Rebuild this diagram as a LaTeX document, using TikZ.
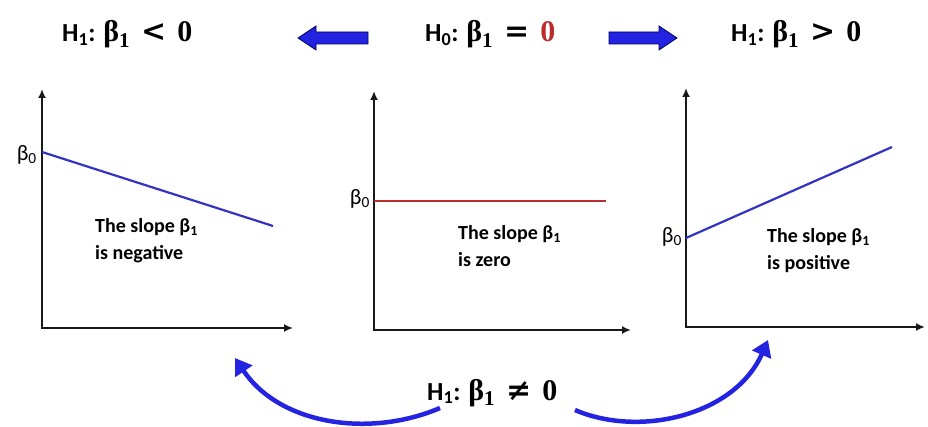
\documentclass[tikz,border=0pt]{standalone}
\usepackage{fontspec}
\setmainfont{Carlito}
\newfontfamily\serifb{Liberation Serif}
\newfontfamily\relfont{DejaVu Serif}
\usetikzlibrary{arrows.meta}
\definecolor{myblue}{RGB}{35,35,225}
\definecolor{lineblue}{RGB}{50,50,195}
\definecolor{myred}{RGB}{185,45,45}
\definecolor{axisgray}{RGB}{25,25,25}
\newcommand{\hypo}[3]{\textbf{H\textsubscript{#1}: {\serifb\fontsize{30}{30}\selectfont β\textsubscript{1}\hspace{11pt}{\relfont #2}\hspace{11pt}#3}}}

\begin{document}
\begin{tikzpicture}[x=1pt,y=-1pt,
  hyp/.style={font=\fontsize{26}{30}\selectfont, anchor=base west, inner sep=0pt},
  axis/.style={line width=2.4pt, axisgray, {Latex[length=9pt,width=8pt]}-{Latex[length=9pt,width=8pt]}},
  slopetxt/.style={font=\bfseries\fontsize{20}{27}\selectfont, align=left, anchor=north west, inner sep=0pt},
  bzero/.style={font=\fontsize{22}{22}\selectfont, anchor=east, inner sep=1pt},
  regline/.style={line width=2.2pt},
  bigarrow/.style={draw=blue!35!black, fill=myblue, line width=0.8pt},
  curvy/.style={line width=4.5pt, myblue, -{Triangle[length=16pt,width=20pt]}}]
\useasboundingbox (0,0) rectangle (928,427);

% headers
\node[hyp] (hneg) at (62,42) {\hypo{1}{<}{0}};
\node[hyp] (hnull) at (425,42) {\hypo{0}{=}{\textcolor{myred}{0}}};
\node[hyp] (hpos) at (731,42) {\hypo{1}{>}{0}};
\node[hyp] (hneq) at (427,400) {\hypo{1}{≠}{0}};

% block arrows
\draw[bigarrow] (298,38) -- (316,26) -- (316,32) -- (368,32) -- (368,44) -- (316,44) -- (316,50) -- cycle;
\draw[bigarrow] (677,38) -- (659,26) -- (659,32) -- (609,32) -- (609,44) -- (659,44) -- (659,50) -- cycle;

% left panel
\coordinate (ltop) at (42,89);
\coordinate (lorig) at (42,328);
\coordinate (lend) at (293,328);
\draw[axis] (ltop) -- (lorig) -- (lend);
\coordinate (la) at (42,152);
\coordinate (lb) at (273,226);
\draw[regline, lineblue] (la) -- (lb);
\node[bzero] (lb0) at (38,155) {β\textsubscript{0}};
\node[slopetxt] (ltxt) at (95,218) {The slope β\textsubscript{1}\\is negative};

% middle panel
\coordinate (mtop) at (374,91);
\coordinate (morig) at (374,330);
\coordinate (mend) at (631,330);
\draw[axis] (mtop) -- (morig) -- (mend);
\coordinate (ma) at (374,201);
\coordinate (mb) at (606,201);
\draw[regline, myred] (ma) -- (mb);
\node[bzero] (mb0) at (371,199) {β\textsubscript{0}};
\node[slopetxt] (mtxt) at (458,225) {The slope β\textsubscript{1}\\is zero};

% right panel
\coordinate (rtop) at (686,88);
\coordinate (rorig) at (686,327);
\coordinate (rend) at (925,327);
\draw[axis] (rtop) -- (rorig) -- (rend);
\coordinate (ra) at (686,238);
\coordinate (rb) at (892,147);
\draw[regline, lineblue] (ra) -- (rb);
\node[bzero] (rb0) at (683,237) {β\textsubscript{0}};
\node[slopetxt] (rtxt) at (767,228) {The slope β\textsubscript{1}\\is positive};

% curved arrows
\coordinate (cl0) at (440,408);
\coordinate (cl1) at (235,358);
\coordinate (cr0) at (575,410);
\coordinate (cr1) at (768,340);
\draw[curvy] (cl0) .. controls (370,438) and (280,425) .. (cl1);
\draw[curvy] (cr0) .. controls (640,438) and (735,415) .. (cr1);
\end{tikzpicture}
\end{document}
